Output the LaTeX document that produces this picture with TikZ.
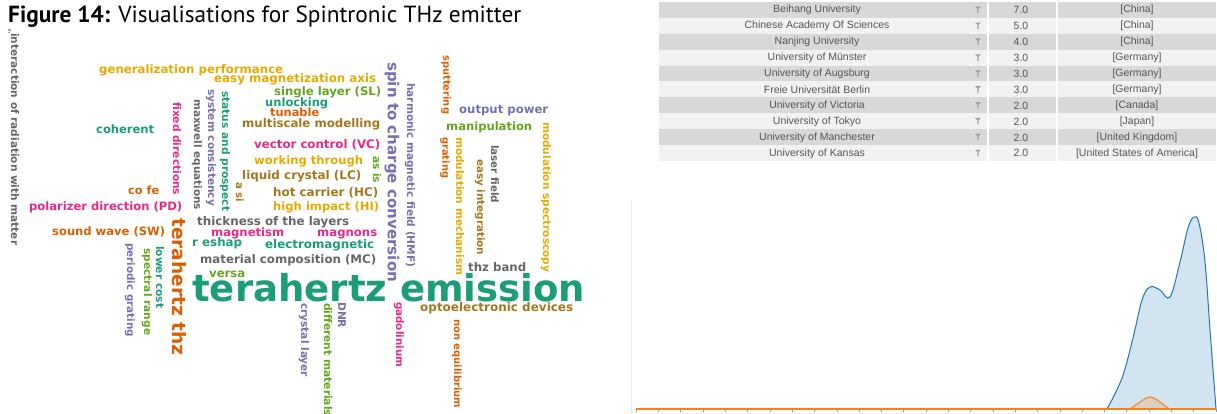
\documentclass[tikz,border=0pt]{standalone}
\usepackage{fontspec}
\setmainfont{Liberation Sans}
\newfontfamily\cloudfont{DejaVu Sans}
\newfontfamily\titlefont{PT Sans}
\definecolor{cteal}{HTML}{1B9E77}
\definecolor{corange}{HTML}{D95F02}
\definecolor{cpurple}{HTML}{7570B3}
\definecolor{cpink}{HTML}{E7298A}
\definecolor{cgreen}{HTML}{66A61E}
\definecolor{cyellow}{HTML}{E6AB02}
\definecolor{cbrown}{HTML}{A6761D}
\definecolor{cgray}{HTML}{666666}
\definecolor{rowdark}{HTML}{D8D8D8}
\definecolor{rowlight}{HTML}{F2F2F2}
\definecolor{tabtext}{HTML}{555555}
\definecolor{kdeblue}{HTML}{1F77B4}
\definecolor{kdeorange}{HTML}{FF7F0E}
% text squeezed to a given length (in px)
\newcommand{\cw}[2]{\resizebox{#1pt}{!}{#2}}
\tikzset{
  word/.style={anchor=west, inner sep=0pt, font=\cloudfont\bfseries},
  vword/.style={word, rotate=-90},
  cell/.style={inner sep=0pt, text=tabtext, font=\fontsize{10.5}{12}\selectfont},
}
\begin{document}
\begin{tikzpicture}[x=1pt, y=-1pt]
\useasboundingbox (0,0) rectangle (1217,414);

% title
\node[anchor=base west, inner sep=0pt] (title) at (8,23)
  {\cw{513}{\titlefont\textbf{Figure 14:} Visualisations for Spintronic THz emitter}};
\draw[gray!70, line width=0.7pt] (8,29) -- (11,29) (8,30.5) -- (11,30.5) (8,32) -- (10,32);

% word cloud, horizontal words
\node[word, cyellow] (gp) at (99,70) {\cw{184}{generalization performance}};
\node[word, cyellow] (ema) at (214,79) {\cw{162}{easy magnetization axis}};
\node[word, cgreen] (sl) at (274,92) {\cw{107}{single layer (SL)}};
\node[word, cteal] (unl) at (265,103) {\cw{63}{unlocking}};
\node[word, corange] (tun) at (270,112) {\cw{49}{tunable}};
\node[word, cbrown] (msm) at (242,124) {\cw{138}{multiscale modelling}};
\node[word, cteal] (coh) at (96,129) {\cw{58}{coherent}};
\node[word, cpink] (vc) at (254,145) {\cw{126}{vector control (VC)}};
\node[word, cyellow] (wt) at (254,161) {\cw{109}{working through}};
\node[word, cbrown] (lc) at (242,176) {\cw{119}{liquid crystal (LC)}};
\node[word, cbrown] (hc) at (273,193) {\cw{105}{hot carrier (HC)}};
\node[word, cyellow] (hi) at (273,207) {\cw{106}{high impact (HI)}};
\node[word, corange] (cofe) at (128,190) {\cw{31}{co fe}};
\node[word, cpink] (pd) at (29,207) {\cw{153}{polarizer direction (PD)}};
\node[word, cpurple] (op) at (459,111) {\cw{89}{output power}};
\node[word, cgreen] (man) at (446,127) {\cw{86}{manipulation}};
\node[word, cgray] (tb) at (468,267) {\cw{58}{thz band}};
\node[word, cbrown] (od) at (420,308) {\cw{153}{optoelectronic devices}};
\node[word, cteal] (te) at (192,288) {\cw{393}{terahertz emission}};
\node[word, cgreen] (versa) at (209,274) {\cw{36}{versa}};
\node[word, cgray] (mc) at (200,260) {\cw{176}{material composition (MC)}};
\node[word, cteal] (resh) at (192,243) {\cw{50}{r eshap}};
\node[word, cteal] (em) at (265,245) {\cw{109}{electromagnetic}};
\node[word, cpink] (mag) at (211,233) {\cw{73}{magnetism}};
\node[word, cpink] (mgn) at (317,234) {\cw{60}{magnons}};
\node[word, cgray] (tl) at (197,222) {\cw{152}{thickness of the layers}};
\node[word, corange] (sw) at (52,232) {\cw{113}{sound wave (SW)}};

% word cloud, vertical words
\node[vword, cgray] (irm) at (15,33) {\cw{212}{interaction of radiation with matter}};
\node[vword, cgreen] (asis) at (377,156) {\cw{27}{as is}};
\node[vword, cbrown] (asi) at (240,182) {\cw{20}{a si}};
\node[vword, cpink] (fd) at (177,102) {\cw{93}{fixed directions}};
\node[vword, cgray] (mxe) at (197,99) {\cw{111}{maxwell equations}};
\node[vword, cpurple] (sc) at (211,89) {\cw{117}{system consistency}};
\node[vword, cteal] (sap) at (225,91) {\cw{120}{status and prospect}};
\node[vword, cpurple] (stc) at (392,62) {\cw{220}{spin to charge conversion}};
\node[vword, cpurple] (hmf) at (410,83) {\cw{184}{harmonic magnetic field (HMF)}};
\node[vword, corange] (sput) at (446,55) {\cw{59}{sputtering}};
\node[vword, cyellow] (ms) at (546,122) {\cw{150}{modulation spectroscopy}};
\node[vword, corange] (grat) at (445,137) {\cw{41}{grating}};
\node[vword, cyellow] (mm) at (460,137) {\cw{138}{modulation mechanism}};
\node[vword, cbrown] (ei) at (480,159) {\cw{96}{easy integration}};
\node[vword, cgray] (lf) at (495,145) {\cw{58}{laser field}};
\node[vword, corange] (neq) at (457,319) {\cw{89}{non equilibrium}};
\node[vword, cpink] (gad) at (399,302) {\cw{65}{gadolinium}};
\node[vword, cpurple] (dnr) at (342,302) {\cw{26}{DNR}};
\node[vword, cgreen] (dm) at (328,303) {\cw{113}{different materials}};
\node[vword, cpurple] (cl) at (304,303) {\cw{74}{crystal layer}};
\node[vword, corange] (tthz) at (179,218) {\cw{137}{terahertz thz}};
\node[vword, cteal] (lcost) at (160,246) {\cw{62}{lower cost}};
\node[vword, cgreen] (sr) at (147,248) {\cw{87}{spectral range}};
\node[vword, cpurple] (pg) at (130,243) {\cw{94}{periodic grating}};

% institutions table
\foreach \n/\u/\v/\c in {1/Beihang University/7.0/China,
    2/Chinese Academy Of Sciences/5.0/China,
    3/Nanjing University/4.0/China,
    4/University of Münster/3.0/Germany,
    5/University of Augsburg/3.0/Germany,
    6/Freie Universität Berlin/3.0/Germany,
    7/University of Victoria/2.0/Canada,
    8/University of Tokyo/2.0/Japan,
    9/University of Manchester/2.0/United Kingdom,
    10/University of Kansas/2.0/United States of America}{
  \ifodd\n \def\rc{rowdark}\else \def\rc{rowlight}\fi
  \pgfmathsetmacro{\yt}{2+15.9*(\n-1)}
  \pgfmathsetmacro{\yb}{\yt+15.9}
  \pgfmathsetmacro{\ym}{\yt+8.2}
  \fill[\rc] (659,\yt) rectangle (987,\yb);
  \fill[\rc] (989,\yt) rectangle (1056,\yb);
  \fill[\rc] (1058,\yt) rectangle (1216,\yb);
  \node[cell] (uni\n) at (817,\ym) {\u};
  \node[cell] (val\n) at (1021,\ym) {\v};
  \node[cell] (ctry\n) at (1137,\ym) {[\c]};
  \fill[gray!75] (975,\ym-3.5) -- (981,\ym-3.5) -- (978.7,\ym-1.5) -- (978.7,\ym+3)
    -- (977.3,\ym+3) -- (977.3,\ym-1.5) -- cycle;
}

% density chart
\draw[gray!15] (631,200) -- (631,414);
\fill[kdeblue, fill opacity=0.2] plot[smooth, tension=0.6] coordinates {(1107,409) (1122,378)
  (1133,338) (1142,300) (1150,287) (1160,290) (1170,297) (1180,262) (1188,228)
  (1194,217) (1199,223) (1205,262) (1210,330) (1216,409)} -- cycle;
\draw[kdeblue, line width=1pt] plot[smooth, tension=0.6] coordinates {(1107,409) (1122,378)
  (1133,338) (1142,300) (1150,287) (1160,290) (1170,297) (1180,262) (1188,228)
  (1194,217) (1199,223) (1205,262) (1210,330) (1216,409)};
\fill[kdeorange, fill opacity=0.2] plot[smooth, tension=0.6] coordinates {(1130,409)
  (1140,402) (1150,397) (1160,402) (1169,409)} -- cycle;
\draw[kdeorange, line width=1pt] plot[smooth, tension=0.6] coordinates {(1130,409)
  (1140,402) (1150,397) (1160,402) (1169,409)};
\foreach \i in {0,...,26}
  \draw[gray!80, line width=0.4pt] (636+22.3*\i,409) -- (636+22.3*\i,411.5);
\draw[kdeorange, line width=1.2pt] (636,409) -- (1216,409);
\end{tikzpicture}
\end{document}
